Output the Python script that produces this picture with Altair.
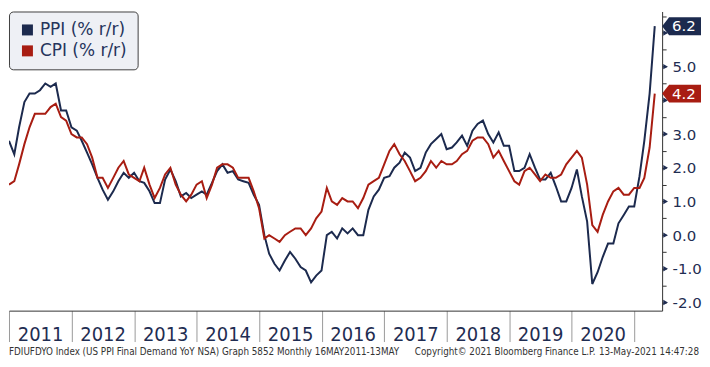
import altair as alt
import pandas as pd

# ---------------- data ----------------
series_names = ["PPI (% r/r)", "CPI (% r/r)"]
series_colors = ["#1c2a4e", "#a81d12"]

first_month = "2010-12-01"   # monthly values, Dec 2010 .. Apr 2021

ppi = [2.8,
       2.4, 3.2, 3.95, 4.2, 4.2, 4.3, 4.5, 4.4, 4.5, 3.7, 3.7, 3.2,
       3.1, 2.8, 2.45, 2.1, 1.7, 1.35, 1.05, 1.3, 1.6, 1.85, 1.7, 1.85,
       1.6, 1.55, 1.3, 0.95, 0.95, 1.65, 1.95, 1.6, 1.15, 1.25, 1.1, 1.2,
       1.3, 1.2, 1.55, 1.9, 2.1, 1.85, 1.9, 1.65, 1.6, 1.55, 1.2, 0.9,
       0.0, -0.55, -0.85, -1.05, -0.75, -0.5, -0.7, -0.95, -1.05, -1.4, -1.2, -1.05,
       0.0, 0.1, -0.1, 0.2, 0.05, 0.2, 0.0, 0.0, 0.75, 1.15, 1.35, 1.7,
       1.75, 2.0, 2.15, 2.45, 2.3, 1.9, 2.0, 2.45, 2.7, 2.85, 3.0, 2.55,
       2.6, 2.75, 2.95, 2.65, 3.1, 3.3, 3.4, 3.0, 2.75, 3.05, 2.65, 2.65,
       1.9, 1.9, 2.0, 2.4, 2.0, 1.65, 1.65, 1.85, 1.45, 1.0, 1.0, 1.4,
       1.95, 1.15, 0.4, -1.45, -1.1, -0.65, -0.25, -0.25, 0.35, 0.6, 0.85, 0.85,
       1.75, 2.8, 4.2, 6.2]

cpi = [1.5,
       1.6, 2.1, 2.7, 3.2, 3.6, 3.6, 3.6, 3.8, 3.9, 3.5, 3.4, 3.0,
       2.9, 2.9, 2.7, 2.3, 1.7, 1.7, 1.4, 1.7, 2.0, 2.2, 1.8, 1.7,
       1.6, 2.0, 1.5, 1.1, 1.4, 1.8, 2.0, 1.5, 1.2, 1.0, 1.2, 1.5,
       1.6, 1.1, 1.5, 2.0, 2.1, 2.1, 2.0, 1.7, 1.7, 1.7, 1.3, 0.8,
       -0.1, 0.0, -0.1, -0.2, 0.0, 0.1, 0.2, 0.2, 0.0, 0.2, 0.5, 0.7,
       1.4, 1.0, 0.9, 1.1, 1.0, 1.0, 0.8, 1.1, 1.5, 1.6, 1.7, 2.1,
       2.5, 2.7, 2.4, 2.2, 1.9, 1.6, 1.7, 1.9, 2.2, 2.0, 2.2, 2.1,
       2.1, 2.2, 2.4, 2.5, 2.8, 2.9, 2.9, 2.7, 2.3, 2.5, 2.2, 1.9,
       1.6, 1.5, 1.9, 2.0, 1.8, 1.6, 1.8, 1.7, 1.7, 1.8, 2.1, 2.3,
       2.5, 2.3, 1.5, 0.3, 0.1, 0.6, 1.0, 1.3, 1.4, 1.2, 1.2, 1.4,
       1.4, 1.7, 2.6, 4.2]

year_ticks = list(range(2011, 2022))
y_major = [-2, -1, 0, 1, 2, 3, 4, 5, 6]
y_minor = [-2.0, -1.5, -1.0, -0.5, 0.0, 0.5, 1.0, 1.5, 2.0, 2.5, 3.0,
           3.5, 4.0, 4.5, 5.0, 5.5, 6.0, 6.5]

footer_left = "FDIUFDYO Index (US PPI Final Demand YoY NSA) Graph 5852  Monthly 16MAY2011-13MAY"
footer_mid = "Copyright\u00a9 2021 Bloomberg Finance L.P."
footer_right = "13-May-2021 14:47:28"

# ---------------- build tables ----------------
n = len(ppi)
dates = (pd.date_range(first_month, periods=n, freq="MS") + pd.offsets.MonthEnd(0)).strftime("%Y-%m-%d")
df = pd.concat([
    pd.DataFrame({"date": dates, "series": series_names[0], "value": ppi}),
    pd.DataFrame({"date": dates, "series": series_names[1], "value": cpi}),
], ignore_index=True)

last_values = [ppi[-1], cpi[-1]]
badge_df = pd.DataFrame({
    "series": series_names,
    "value": last_values,
    "label": [f"{v:.1f}" for v in last_values],
})
tick_df = pd.DataFrame({"value": y_major})

W, H = 655, 300
NAVY_TXT = "#1f2d52"
NARROW = "Liberation Sans Narrow, DejaVu Sans Condensed, Arial Narrow, sans-serif"

x_scale = alt.Scale(type="utc", domain=[
    alt.DateTime(year=2010, month=12, date=31, utc=True),
    alt.DateTime(year=2021, month=6, date=12, utc=True)])
y_scale = alt.Scale(domain=[-2.24, 6.636], nice=False, zero=False)

x_axis = alt.Axis(
    values=[alt.DateTime(year=y, month=1, date=1, utc=True) for y in year_ticks],
    labelExpr="utcyear(datum.value) < 2021 ? utcFormat(datum.value, '%Y') : ''",
    tickSize=31, tickColor="#9a9a9a", tickWidth=1,
    domainColor="#333333", domainWidth=1,
    labelFont=NARROW, labelFontSize=20, labelColor=NAVY_TXT,
    labelOffset=31, labelPadding=-1, labelBaseline="alphabetic",
    labelAlign="center", labelFlush=False, labelOverlap=False, labelBound=False,
    grid=False, title=None)

# tick labels that sit under a last-value badge are hidden (as in the original)
covered = " || ".join(f"abs(datum.value - {v}) < 0.35" for v in last_values)
y_axis = alt.Axis(
    orient="right", values=y_minor,
    labelExpr=f"(datum.value % 1 != 0) || {covered} ? '' : "
              "(datum.value < 0 ? '-' : '') + format(abs(datum.value), '.1f')",
    tickSize=4, tickColor="#333333", domainColor="#333333", domainWidth=1,
    labelFont="DejaVu Sans", labelFontSize=15, labelColor=NAVY_TXT,
    labelPadding=6, labelFlush=False, labelOverlap=False, grid=False, title=None)

Y = alt.Y("value:Q", scale=y_scale, axis=y_axis)


def line_layer(name, colour):
    return alt.Chart(df).transform_filter(alt.datum.series == name).mark_line(
        strokeWidth=2, clip=True, color=colour
    ).encode(x=alt.X("date:T", scale=x_scale, axis=x_axis), y=Y)


tri = alt.Chart(tick_df).mark_point(shape="triangle-right", filled=True, size=30,
                                    color=NAVY_TXT, opacity=1).encode(
    x=alt.value(W + 3.5), y=Y)

BW = 39  # badge width in px
BADGE = "M -1 0 L -0.64 -0.46 L 1 -0.46 L 1 0.46 L -0.64 0.46 Z"
badges = alt.Chart(badge_df).mark_point(shape=BADGE, size=BW * BW, filled=True,
                                        opacity=1, strokeWidth=0).encode(
    x=alt.value(W + BW / 2), y=Y,
    fill=alt.Fill("series:N", scale=alt.Scale(domain=series_names, range=series_colors),
                  legend=alt.Legend(orient="none", legendX=0, legendY=0, title=None,
                                    direction="vertical", fillColor="#eef0f5",
                                    strokeColor="#404040", cornerRadius=4, padding=10,
                                    symbolType="square", symbolSize=121,
                                    symbolStrokeWidth=0, labelFont="DejaVu Sans",
                                    labelFontSize=17, labelColor="#25345c",
                                    labelOffset=4, rowPadding=3)),
)

badge_txt = alt.Chart(badge_df).mark_text(align="left", baseline="middle", color="white",
                                          font="DejaVu Sans", fontSize=15).encode(
    x=alt.value(W + 10), y=Y, text="label:N")


def footer(txt, xpos, align):
    return alt.Chart(pd.DataFrame({"t": [txt]})).mark_text(
        align=align, baseline="middle", font=NARROW, fontSize=9.8, color="#333333"
    ).encode(x=alt.value(xpos), y=alt.value(H + 41), text="t:N")


chart = alt.layer(
    line_layer(series_names[0], series_colors[0]),
    line_layer(series_names[1], series_colors[1]),
    tri, badges, badge_txt,
    footer(footer_left, 0, "left"),
    footer(footer_mid, 407, "left"),
    footer(footer_right, W + BW - 2, "right"),
).properties(width=W, height=H, padding=0, background="white"
).configure_view(stroke=None)

chart.save("out.html", embed_options={"renderer": "svg", "actions": False})
